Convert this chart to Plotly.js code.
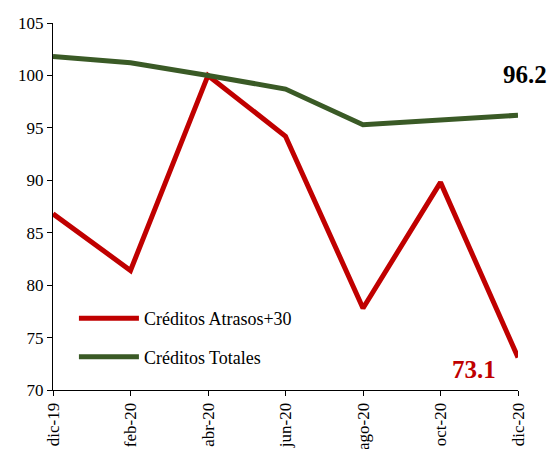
<!DOCTYPE html>
<html>
<head>
<meta charset="utf-8">
<script src="https://cdn.plot.ly/plotly-3.0.1.min.js"></script>
<style>html,body{margin:0;padding:0;background:#fff;}#chart{width:550px;height:449px;}</style>
</head>
<body>
<div id="chart"></div>
<script>
const months = ["dic-19", "feb-20", "abr-20", "jun-20", "ago-20", "oct-20", "dic-20"];
const atrasos = [86.8, 81.4, 100.0, 94.2, 77.8, 89.8, 73.1];
const totales = [101.8, 101.2, 100.0, 98.7, 95.3, 95.8, 96.2];
const seriesNames = ["Créditos Atrasos+30", "Créditos Totales"];
const seriesColors = ["#C00000", "#3A5A26"];

const font = "'Liberation Serif', 'Times New Roman', serif";

const traces = [
  {x: months, y: atrasos, name: seriesNames[0], type: "scatter", mode: "lines", legendgroup: "a",
   line: {color: seriesColors[0], width: 5}},
  {x: months, y: totales, name: seriesNames[1], type: "scatter", mode: "lines", legendgroup: "b",
   line: {color: seriesColors[1], width: 5}}
];

const layout = {
  width: 550, height: 449,
  margin: {l: 53, r: 32, t: 23, b: 59},
  paper_bgcolor: "#fff", plot_bgcolor: "#fff",
  font: {family: font, size: 17, color: "#000"},
  showlegend: true,
  legend: {x: 0.045, y: 0.245, xanchor: "left", yanchor: "top",
           bgcolor: "rgba(0,0,0,0)", font: {family: font, size: 18, color: "#000"},
           traceorder: "grouped", tracegroupgap: 12, itemwidth: 60},
  xaxis: {type: "category", range: [0, 6], showgrid: false, zeroline: false,
          showline: true, linecolor: "#000", linewidth: 1,
          ticks: "outside", ticklen: 5, tickcolor: "#000",
          tickangle: -90, tickfont: {family: font, size: 17, color: "#000"}},
  yaxis: {range: [70, 105], dtick: 5, showgrid: false, zeroline: false,
          showline: true, linecolor: "#000", linewidth: 1,
          ticks: "outside", ticklen: 5, tickcolor: "#000",
          tickfont: {family: font, size: 17, color: "#000"}},
  annotations: [
    {x: months[6], y: totales[6], xref: "x", yref: "y", text: "<b>" + totales[6].toFixed(1) + "</b>",
     showarrow: false, xshift: 7, yshift: 41, yanchor: "middle",
     font: {family: font, size: 25, color: "#000"}},
    {x: months[6], y: atrasos[6], xref: "x", yref: "y", text: "<b>" + atrasos[6].toFixed(1) + "</b>",
     showarrow: false, xshift: -44, yshift: -12, yanchor: "middle",
     font: {family: font, size: 25, color: seriesColors[0]}}
  ]
};

Plotly.newPlot("chart", traces, layout, {displayModeBar: false, staticPlot: true});
</script>
</body>
</html>
